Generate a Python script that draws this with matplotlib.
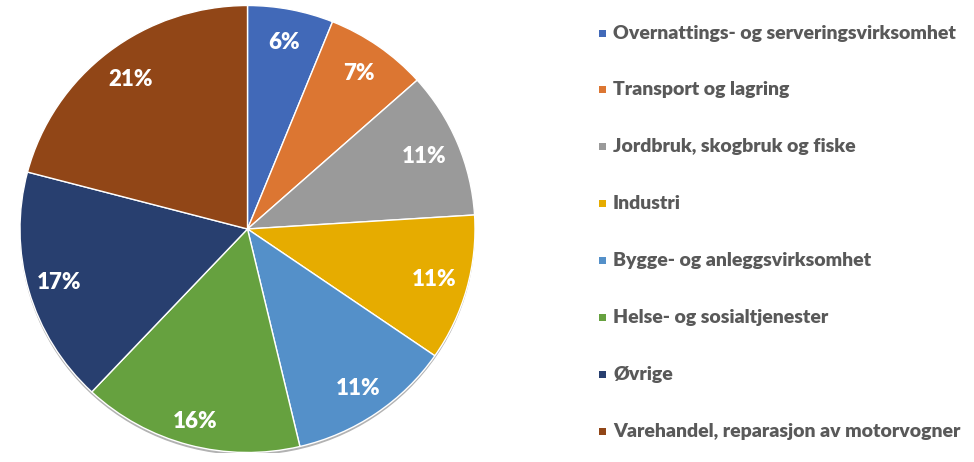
import matplotlib
matplotlib.use("Agg")
import matplotlib.pyplot as plt
from matplotlib.patches import Rectangle, Ellipse
import numpy as np

categories = [
    "Overnattings- og serveringsvirksomhet",
    "Transport og lagring",
    "Jordbruk, skogbruk og fiske",
    "Industri",
    "Bygge- og anleggsvirksomhet",
    "Helse- og sosialtjenester",
    "Øvrige",
    "Varehandel, reparasjon av motorvogner",
]
values = [6.1, 7.3, 10.6, 10.6, 11.7, 15.7, 17.1, 20.9]
pct_labels = ["6%", "7%", "11%", "11%", "11%", "16%", "17%", "21%"]
colors = ["#4169B8", "#DC7632", "#9A9A9A", "#E6AC00",
          "#5490C9", "#66A13F", "#283F6F", "#914617"]
label_dist = [0.85, 0.85, 0.84, 0.85, 0.865, 0.89, 0.86, 0.845]

W, H = 974, 462
fig = plt.figure(figsize=(W / 100, H / 100), dpi=100)
cx, cy, rx, ry = 247.5, 229, 227.5, 223.5
ax = fig.add_axes([(cx - rx) / W, (H - cy - ry) / H, 2 * rx / W, 2 * ry / H])
ax.add_patch(Ellipse((0, -0.012), 2.0, 2.0, facecolor="#7f7f7f", alpha=0.6,
                     edgecolor="none", zorder=0))
wedges, _ = ax.pie(values, colors=colors, startangle=90, counterclock=False,
                   radius=1.0, wedgeprops=dict(edgecolor="white", linewidth=1.0))
tot = sum(values)
cum = 0
for v, lab, d in zip(values, pct_labels, label_dist):
    mid = (cum + v / 2) / tot * 2 * np.pi
    cum += v
    ax.text(d * np.sin(mid), d * np.cos(mid), lab, ha="center", va="center",
            color="white", fontsize=16, fontweight="heavy", family="Lato")
ax.set_xlim(-1, 1)
ax.set_ylim(-1, 1)
ax.set_aspect("auto")
ax.axis("off")

y0, dy = 33, 56.9
for i, (c, col) in enumerate(zip(categories, colors)):
    y = y0 + i * dy
    fig.add_artist(Rectangle(((602 - 3.5) / W, (H - y - 3.5) / H), 7 / W, 7 / H,
                             transform=fig.transFigure, facecolor=col, edgecolor="none"))
    fig.text(613 / W, (H - y) / H, c, ha="left", va="center", fontsize=14,
             fontweight="heavy", color="#595959", family="Lato")

fig.savefig("out.png", dpi=100)
